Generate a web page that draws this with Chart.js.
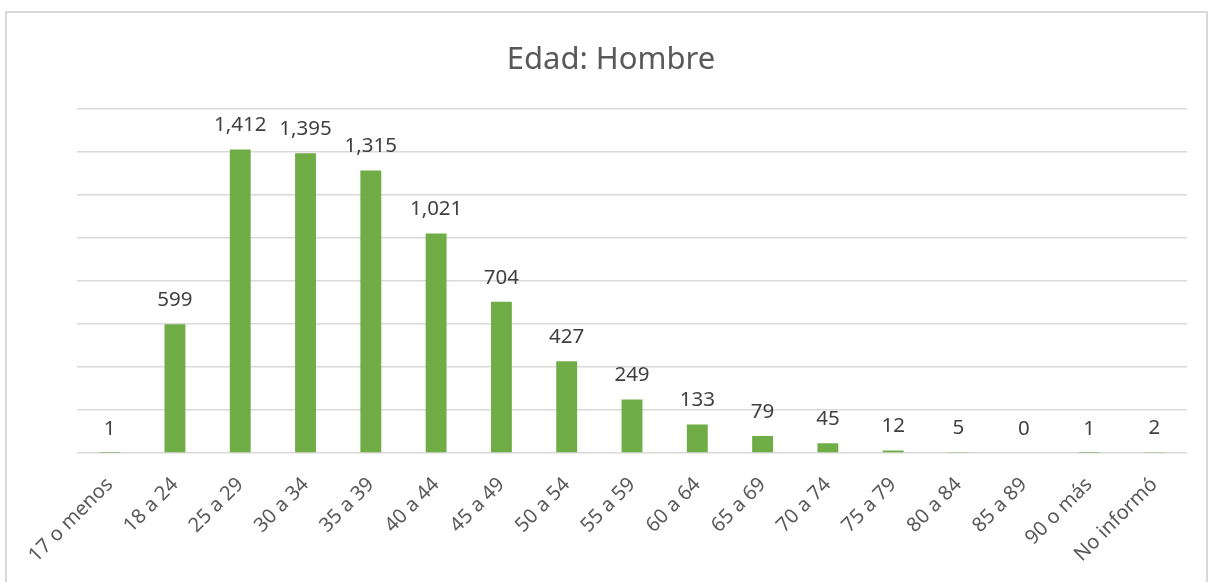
<!DOCTYPE html>
<html>
<head>
<meta charset="utf-8">
<script src="https://cdn.jsdelivr.net/npm/chart.js@4.4.1/dist/chart.umd.min.js"></script>
<style>
    html, body { margin: 0; padding: 0; background: #fff; overflow: hidden; }
    #wrap { position: relative; width: 1209px; height: 582px; }
    #frame {
        position: absolute;
        left: 5px;
        top: 11px;
        width: 1199px;
        height: 600px;
        border: 2px solid #d9d9d9;
        pointer-events: none;
    }
</style>
</head>
<body>
<div id="wrap">
    <canvas id="chart" width="1209" height="582"></canvas>
    <div id="frame"></div>
</div>
<script>
const categories = ['17 o menos', '18 a 24', '25 a 29', '30 a 34', '35 a 39', '40 a 44', '45 a 49',
    '50 a 54', '55 a 59', '60 a 64', '65 a 69', '70 a 74', '75 a 79', '80 a 84', '85 a 89',
    '90 o más', 'No informó'];
const counts = [1, 599, 1412, 1395, 1315, 1021, 704, 427, 249, 133, 79, 45, 12, 5, 0, 1, 2];
const yMax = 1600;
const yStep = 200;

const FONT = "'Noto Sans', sans-serif";

// Draws the value above each bar (like Excel data labels)
const valueLabels = {
    id: 'valueLabels',
    afterDatasetsDraw(chart) {
        const ctx = chart.ctx;
        const meta = chart.getDatasetMeta(0);
        ctx.save();
        ctx.font = `20.5px ${FONT}`;
        ctx.fillStyle = '#404040';
        ctx.textAlign = 'center';
        ctx.textBaseline = 'middle';
        meta.data.forEach((bar, i) => {
            ctx.fillText(counts[i].toLocaleString('en-US'), bar.x, bar.y - 24);
        });
        ctx.restore();
    }
};

new Chart(document.getElementById('chart'), {
    type: 'bar',
    data: {
        labels: categories,
        datasets: [{
            label: 'Hombre',
            data: counts,
            backgroundColor: '#70ad47',
            borderWidth: 0,
            barPercentage: 0.32,
            categoryPercentage: 1
        }]
    },
    options: {
        responsive: false,
        animation: false,
        layout: {
            // left/right kept so the title centres where Excel put it
            padding: { left: 13, right: 0, top: 0, bottom: 0 }
        },
        plugins: {
            legend: { display: false },
            tooltip: { enabled: false },
            title: {
                display: true,
                text: 'Edad: Hombre',
                color: '#595959',
                font: { family: FONT, size: 31, weight: 'normal' },
                padding: { top: 42, bottom: 30 }
            }
        },
        scales: {
            x: {
                grid: { display: false },
                border: { display: false },
                ticks: {
                    color: '#595959',
                    font: { family: FONT, size: 20 },
                    minRotation: 45,
                    maxRotation: 45,
                    autoSkip: false,
                    padding: 12
                },
                afterFit(scale) {
                    scale.height = 129;
                }
            },
            y: {
                min: 0,
                max: yMax,
                grid: {
                    color: '#d9d9d9',
                    lineWidth: 1.5,
                    drawTicks: false
                },
                border: { display: false },
                ticks: { display: false, stepSize: yStep },
                afterFit(scale) {
                    scale.width = 64;
                }
            },
            // empty right axis, only reserves the right margin
            yRight: {
                position: 'right',
                min: 0,
                max: yMax,
                grid: { display: false },
                border: { display: false },
                ticks: { display: false },
                afterFit(scale) {
                    scale.width = 22;
                }
            }
        }
    },
    plugins: [valueLabels]
});
</script>
</body>
</html>
